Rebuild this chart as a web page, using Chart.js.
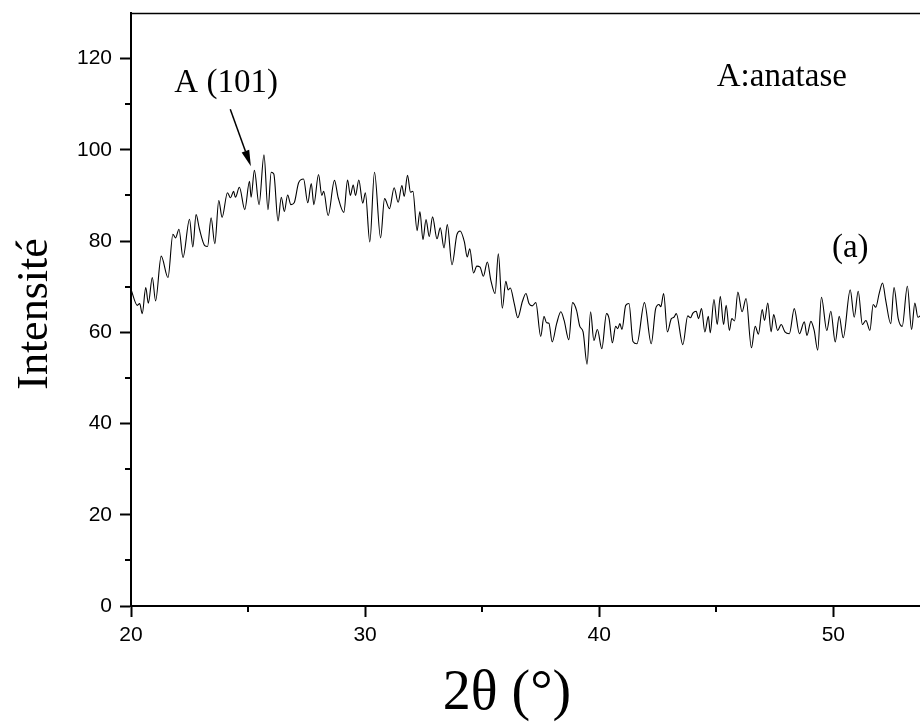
<!DOCTYPE html>
<html><head><meta charset="utf-8">
<script src="https://cdn.jsdelivr.net/npm/chart.js@4.4.1/dist/chart.umd.min.js"></script>
<style>html,body{margin:0;padding:0;background:#fff;overflow:hidden}#wrap{width:920px;height:724px;position:relative}</style>
</head><body><div id="wrap"><canvas id="c" width="920" height="724"></canvas></div>
<script>
const twoTheta = [20.00,20.27,20.37,20.48,20.63,20.74,20.91,21.05,21.29,21.58,21.79,21.90,22.05,22.22,22.50,22.64,22.78,22.92,23.15,23.27,23.42,23.58,23.75,23.89,24.12,24.25,24.38,24.46,24.63,24.86,25.06,25.13,25.27,25.47,25.68,25.85,25.99,26.10,26.28,26.42,26.55,26.69,26.83,26.97,27.16,27.37,27.55,27.70,27.81,28.01,28.15,28.23,28.42,28.69,28.85,29.09,29.25,29.37,29.49,29.59,29.73,29.90,30.01,30.20,30.40,30.66,30.83,31.04,31.24,31.41,31.57,31.67,31.81,31.94,32.04,32.22,32.34,32.47,32.60,32.74,32.88,33.07,33.21,33.37,33.51,33.71,33.92,34.06,34.24,34.36,34.47,34.63,34.77,34.91,35.05,35.22,35.37,35.55,35.69,35.86,36.01,36.11,36.20,36.37,36.52,36.72,36.87,37.00,37.14,37.29,37.50,37.64,37.75,37.85,37.99,38.18,38.36,38.50,38.70,38.86,39.03,39.17,39.31,39.48,39.63,39.77,39.92,40.11,40.31,40.42,40.56,40.70,40.79,40.88,40.97,41.13,41.27,41.44,41.61,41.93,42.22,42.41,42.55,42.63,42.75,42.91,43.08,43.19,43.29,43.57,43.78,43.90,44.00,44.14,44.24,44.37,44.51,44.66,44.74,44.90,45.04,45.17,45.31,45.42,45.56,45.66,45.78,45.92,46.10,46.27,46.50,46.66,46.80,46.96,47.06,47.20,47.34,47.45,47.62,47.77,47.93,48.12,48.33,48.55,48.76,48.87,49.04,49.18,49.33,49.49,49.72,49.89,50.08,50.25,50.42,50.72,50.89,51.06,51.24,51.39,51.56,51.70,51.81,51.96,52.10,52.24,52.45,52.59,52.77,52.94,53.16,53.34,53.48,53.61,53.75];
const intensity = [69.4,65.9,66.3,64.1,69.8,66.4,72.0,66.9,76.7,72.0,81.5,80.7,82.6,76.4,84.8,78.7,85.8,82.7,79.0,78.8,85.1,79.4,88.9,85.2,90.6,89.5,90.9,89.6,91.8,86.9,93.1,89.6,95.5,88.0,98.9,86.9,95.1,94.7,84.4,89.6,86.5,90.1,88.0,88.4,92.8,93.6,88.4,92.6,88.0,94.6,90.0,90.9,85.6,93.3,89.5,86.3,93.4,90.0,92.3,90.0,93.4,88.3,90.6,79.8,95.1,80.7,89.3,87.1,91.7,88.5,92.2,89.8,94.4,90.7,90.9,82.3,86.5,80.3,84.7,81.0,85.3,80.5,82.9,78.5,83.6,74.8,81.4,82.2,79.8,76.5,78.3,73.0,74.5,74.3,72.3,75.4,71.4,68.5,77.2,65.3,71.2,69.3,69.7,66.3,63.2,66.8,68.5,66.3,65.8,66.5,59.1,63.5,62.1,62.0,57.9,61.9,64.5,62.6,58.4,66.5,64.8,61.3,60.1,53.0,64.5,58.2,60.6,56.4,64.1,63.0,57.7,61.3,60.8,61.9,60.6,65.9,66.3,58.0,57.5,66.5,57.5,65.2,66.1,65.6,68.5,60.1,63.0,63.3,64.1,57.3,63.6,63.2,64.2,64.6,63.0,65.2,60.1,63.5,59.9,67.2,61.7,67.9,61.7,65.9,60.4,63.0,62.5,68.8,64.5,67.4,56.6,61.3,59.6,65.0,62.6,66.4,60.1,63.9,60.4,61.7,60.1,59.7,65.2,59.7,62.3,59.3,62.4,60.4,56.1,67.7,60.4,64.6,57.9,63.5,58.8,69.3,63.3,69.0,61.7,62.6,60.4,66.1,65.5,68.6,70.8,66.9,61.9,69.8,63.0,61.3,70.1,60.6,66.4,63.3,63.8];
const xTickValues = [20, 30, 40, 50];
const xMinorTicks = [25, 35, 45];
const yTickValues = [0, 20, 40, 60, 80, 100, 120];
const yMinorTicks = [10, 30, 50, 70, 90, 110];
const xTitle = '2θ (°)';
const yTitle = 'Intensité';
const notes = [
  {text: 'A (101)', x: 21.85, y: 112.7},
  {text: 'A:anatase', x: 45.02, y: 114.0},
  {text: '(a)', x: 49.94, y: 76.5}
];
const arrowFrom = [24.24, 108.9];
const arrowTo = [25.12, 96.4];

const SERIF = '"Liberation Serif", "Times New Roman", serif';
const SANS = '"Liberation Sans", Arial, sans-serif';

const deco = {
  id: 'deco',
  afterDraw(chart) {
    const {ctx, chartArea: a, scales: {x, y}} = chart;
    ctx.save();
    ctx.strokeStyle = '#000';
    ctx.lineWidth = 2;
    ctx.beginPath();
    xMinorTicks.forEach(v => { const p = Math.round(x.getPixelForValue(v)); ctx.moveTo(p, a.bottom); ctx.lineTo(p, a.bottom + 6); });
    yMinorTicks.forEach(v => { const p = Math.round(y.getPixelForValue(v)); ctx.moveTo(a.left, p); ctx.lineTo(a.left - 6, p); });
    ctx.stroke();
    ctx.lineWidth = 1.3;
    ctx.beginPath(); ctx.moveTo(a.left, a.top + 0.5); ctx.lineTo(a.right, a.top + 0.5); ctx.stroke();

    ctx.fillStyle = '#000';
    ctx.font = '33px ' + SERIF;
    ctx.textAlign = 'left'; ctx.textBaseline = 'alphabetic';
    notes.forEach(n => ctx.fillText(n.text, x.getPixelForValue(n.x), y.getPixelForValue(n.y)));

    const x1 = x.getPixelForValue(arrowFrom[0]), y1 = y.getPixelForValue(arrowFrom[1]);
    const x2 = x.getPixelForValue(arrowTo[0]), y2 = y.getPixelForValue(arrowTo[1]);
    const ang = Math.atan2(y2 - y1, x2 - x1);
    const hl = 16, hw = 4;
    const bx = x2 - hl * Math.cos(ang), by = y2 - hl * Math.sin(ang);
    ctx.lineWidth = 1.5;
    ctx.beginPath(); ctx.moveTo(x1, y1); ctx.lineTo(bx, by); ctx.stroke();
    ctx.beginPath();
    ctx.moveTo(x2, y2);
    ctx.lineTo(bx + hw * Math.sin(ang), by - hw * Math.cos(ang));
    ctx.lineTo(bx - hw * Math.sin(ang), by + hw * Math.cos(ang));
    ctx.closePath(); ctx.fill();

    ctx.textAlign = 'center';
    ctx.font = '56px ' + SERIF;
    ctx.fillText(xTitle, 507, 709);
    ctx.font = '44px ' + SERIF;
    ctx.translate(47, 314); ctx.rotate(-Math.PI / 2);
    ctx.fillText(yTitle, 0, 0);
    ctx.restore();
  }
};

new Chart(document.getElementById('c'), {
  type: 'line',
  data: {
    datasets: [{
      data: twoTheta.map((v, i) => ({x: v, y: intensity[i]})),
      borderColor: '#000', borderWidth: 1.1, pointRadius: 0,
      cubicInterpolationMode: 'monotone', fill: false
    }]
  },
  options: {
    responsive: false, animation: false, devicePixelRatio: 1,
    layout: {padding: {left: 0, right: 0, top: 13, bottom: 0}},
    plugins: {legend: {display: false}, tooltip: {enabled: false}},
    scales: {
      x: {
        type: 'linear', min: 20, max: 53.7,
        afterBuildTicks: s => { s.ticks = xTickValues.map(v => ({value: v})); },
        afterFit: s => { s.height = 118; s.paddingLeft = 0; s.paddingRight = 0; },
        ticks: {font: {family: SANS, size: 21}, color: '#000', padding: 6, maxRotation: 0, autoSkip: false},
        grid: {drawOnChartArea: false, drawTicks: true, tickLength: 11, tickWidth: 2, tickColor: '#000'},
        border: {display: true, color: '#000', width: 2}
      },
      y: {
        type: 'linear', min: 0, max: 130,
        afterBuildTicks: s => { s.ticks = yTickValues.map(v => ({value: v})); },
        afterFit: s => { s.width = 131; s.paddingTop = 0; s.paddingBottom = 0; },
        ticks: {font: {family: SANS, size: 21}, color: '#000', padding: 8, autoSkip: false},
        grid: {drawOnChartArea: false, drawTicks: true, tickLength: 11, tickWidth: 2, tickColor: '#000'},
        border: {display: true, color: '#000', width: 2}
      }
    }
  },
  plugins: [deco]
});
</script></body></html>
